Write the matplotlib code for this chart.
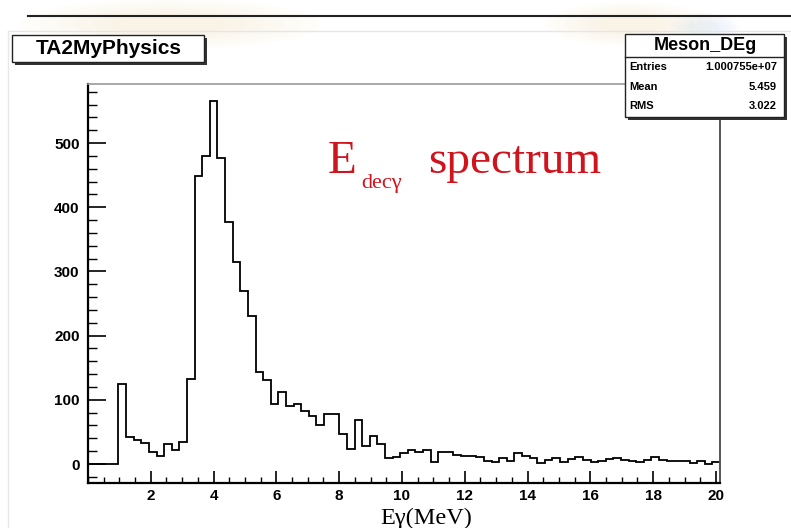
import numpy as np
import matplotlib
matplotlib.use("Agg")
import matplotlib.pyplot as plt
from matplotlib.patches import Rectangle, Ellipse
from matplotlib.lines import Line2D
from matplotlib.ticker import MultipleLocator, FixedLocator

# ---- histogram data: decay-photon energy spectrum ----
X_MIN, X_MAX = 0.0, 20.13
N_BINS = 83
counts = [
    0, 0, 0, 0,
    125, 42, 38, 32, 19, 12.5, 31, 22, 35, 132,
    449, 480, 565, 477, 377, 315, 270, 231, 144, 131,
    93.5, 112, 90, 93.5, 82.5, 74.8, 60.7, 78, 78, 46.7,
    23.9, 68.5, 28, 43.6, 31, 9, 10.4, 17.6, 21.8, 19,
    21.8, 3.6, 19, 19, 14, 12.5, 12.5, 10.4, 5.2, 3.6,
    9, 5.2, 16.6, 12.5, 10, 1, 5.5, 9, 3.6, 7.3,
    11.4, 6.2, 3.6, 5.2, 7.3, 8.8, 6.2, 4.5, 3.6, 6.2,
    10.4, 6.2, 5.2, 5.2, 4.5, 1, 5.2, 0, 3.6,
]
x_ticks = [2, 4, 6, 8, 10, 12, 14, 16, 18, 20]
y_ticks = [0, 100, 200, 300, 400, 500]
Y_MIN, Y_MAX = -29.6, 592

hist_name = "Meson_DEg"
stats_rows = [("Entries", "1.000755e+07"), ("Mean", "5.459"), ("RMS", "3.022")]
canvas_title = "TA2MyPhysics"

W, H = 791, 528
fig = plt.figure(figsize=(W / 100, H / 100), dpi=100)
fig.patch.set_facecolor("white")


def fx(px):
    return px / W


def fy(py):
    return 1 - py / H


# very faint, soft slide background motifs near the top edge
for cx, cy, w, h, c in [(170, 24, 300, 50, "#f6d98a"), (630, 24, 170, 44, "#f6d98a"),
                        (705, 28, 70, 30, "#a9c3e8")]:
    for s in np.linspace(1.0, 0.4, 6):
        fig.add_artist(Ellipse((fx(cx), fy(cy)), fx(w * s), h * s / H, facecolor=c,
                               edgecolor="none", alpha=0.035, zorder=0))

# slide decoration: rule across the top and faint canvas border
fig.add_artist(Line2D([fx(28), fx(791)], [fy(16), fy(16)], color="#222222", lw=1.5))
fig.add_artist(Line2D([fx(8), fx(791)], [fy(31), fy(31)], color="#e6e6e6", lw=1.0))
fig.add_artist(Line2D([fx(8), fx(8)], [fy(31), fy(528)], color="#e8e8e8", lw=1.0))

ax = fig.add_axes([fx(88), fy(483), fx(720) - fx(88), fy(84) - fy(483)])
ax.patch.set_alpha(0)
edges = np.linspace(X_MIN, X_MAX, N_BINS + 1)
ax.stairs(counts, edges, baseline=None, color="black", lw=1.3)

ax.set_xlim(X_MIN, X_MAX)
ax.set_ylim(Y_MIN, Y_MAX)

ax.xaxis.set_major_locator(FixedLocator(x_ticks))
ax.xaxis.set_minor_locator(MultipleLocator(0.5))
ax.yaxis.set_major_locator(FixedLocator(y_ticks))
ax.yaxis.set_minor_locator(MultipleLocator(20))
ax.set_xticklabels([str(t) for t in x_ticks])
ax.set_yticklabels([str(t) for t in y_ticks])

ax.tick_params(axis="x", which="major", direction="in", length=8.6, width=1.2,
               pad=4, labelsize=11, top=False)
ax.tick_params(axis="x", which="minor", direction="in", length=4.3, width=1.0, top=False)
ax.tick_params(axis="y", which="major", direction="in", length=13, width=1.2,
               pad=6, labelsize=11, right=False)
ax.tick_params(axis="y", which="minor", direction="in", length=6.5, width=1.0, right=False)
for lab in ax.get_xticklabels() + ax.get_yticklabels():
    lab.set_fontweight("bold")
    lab.set_fontfamily("Liberation Sans")

ax.spines["left"].set_linewidth(1.6)
ax.spines["bottom"].set_linewidth(1.6)
ax.spines["top"].set_color("#9a9a9a")
ax.spines["top"].set_linewidth(1.2)
ax.spines["right"].set_color("#555555")
ax.spines["right"].set_linewidth(1.4)

# axis title
fig.text(fx(380), fy(524), "Eγ(MeV)", family="Liberation Serif", fontsize=17.5,
         ha="left", va="baseline", color="black")

# red annotation: E_{decγ} spectrum
red = "#d0141e"
fig.text(fx(328), fy(173), "E", family="Liberation Serif", fontsize=34,
         ha="left", va="baseline", color=red)
fig.text(fx(361), fy(188), "decγ", family="Liberation Serif", fontsize=16,
         ha="left", va="baseline", color=red)
fig.text(fx(428), fy(173), "spectrum", family="Liberation Serif", fontsize=34,
         ha="left", va="baseline", color=red)


def shadow_box(x0, y0, x1, y1, shadow=3):
    fig.add_artist(Rectangle((fx(x0 + shadow), fy(y1 + shadow)),
                             fx(x1 - x0), fy(y0) - fy(y1),
                             facecolor="#333333", edgecolor="none", zorder=5))
    fig.add_artist(Rectangle((fx(x0), fy(y1)), fx(x1 - x0), fy(y0) - fy(y1),
                             facecolor="white", edgecolor="#222222", lw=1.0, zorder=6))


# canvas title box
shadow_box(12, 35, 204, 62)
fig.text(fx(109), fy(49), canvas_title, family="Liberation Sans", fontweight="bold",
         fontsize=15, ha="center", va="center", zorder=7)

# statistics box
shadow_box(625, 34, 784, 117)
fig.add_artist(Line2D([fx(625), fx(784)], [fy(57), fy(57)], color="#222222", lw=1.0, zorder=7))
fig.text(fx(705), fy(46), hist_name, family="Liberation Sans", fontweight="bold",
         fontsize=13, ha="center", va="center", zorder=7)
for (name, val), yy in zip(stats_rows, [67, 87, 106]):
    fig.text(fx(629), fy(yy), name, family="Liberation Sans", fontweight="bold",
             fontsize=8, ha="left", va="center", zorder=7)
    fig.text(fx(777), fy(yy), val, family="Liberation Sans", fontweight="bold",
             fontsize=8, ha="right", va="center", zorder=7)

fig.savefig("out.png", dpi=100, facecolor="white")
